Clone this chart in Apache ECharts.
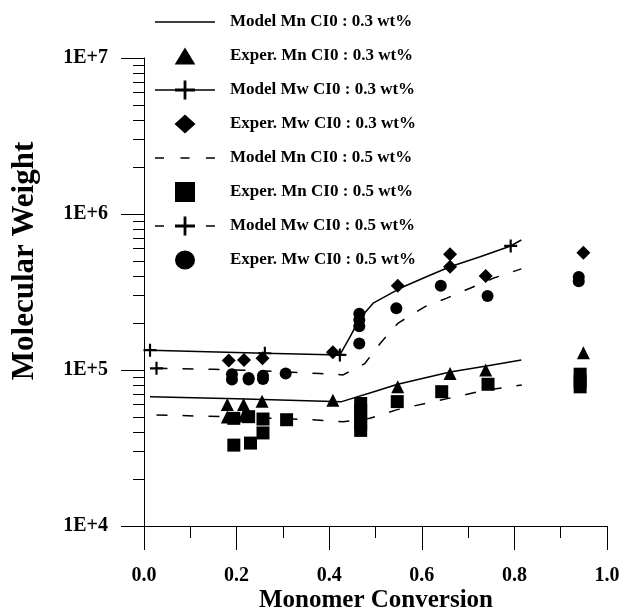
<!DOCTYPE html>
<html><head><meta charset="utf-8">
<script src="https://cdn.jsdelivr.net/npm/echarts@6/dist/echarts.min.js"></script>
<style>html,body{margin:0;padding:0;background:#fff}#c{width:629px;height:613px}</style>
</head><body><div id="c"></div>
<script>
// ---------- data ----------
const xTickLabels = ['0.0', '0.2', '0.4', '0.6', '0.8', '1.0'];
const yTickLabels = ['1E+4', '1E+5', '1E+6', '1E+7'];
const seriesNames = [
  'Model Mn CI0 : 0.3 wt%',
  'Exper. Mn CI0 : 0.3 wt%',
  'Model Mw CI0 : 0.3 wt%',
  'Exper. Mw CI0 : 0.3 wt%',
  'Model Mn CI0 : 0.5 wt%',
  'Exper. Mn CI0 : 0.5 wt%',
  'Model Mw CI0 : 0.5 wt%',
  'Exper. Mw CI0 : 0.5 wt%'
];

const modelMn03X = [0.013, 0.2, 0.427, 0.5, 0.548, 0.661, 0.74, 0.815];
const modelMn03Y = [67500, 65500, 62700, 73000, 81000, 97000, 106000, 116000];

const experMn03X = [0.18, 0.18, 0.215, 0.215, 0.255, 0.408, 0.548, 0.661, 0.738, 0.949];
const experMn03Y = [60000, 50000, 60000, 50700, 63000, 64000, 78000, 95000, 100000, 129000];

const modelMw03X = [0.013, 0.261, 0.423, 0.445, 0.466, 0.495, 0.553, 0.61, 0.661, 0.726, 0.792, 0.815];
const modelMw03Y = [134000, 128000, 125000, 163000, 214000, 268000, 334000, 396000, 459000, 532000, 624000, 681000];
const modelMw03MarkX = [0.013, 0.261, 0.423, 0.792];
const modelMw03MarkY = [134000, 128000, 125000, 624000];

const experMw03X = [0.183, 0.216, 0.256, 0.408, 0.548, 0.661, 0.661, 0.738, 0.949];
const experMw03Y = [115000, 116000, 119000, 130000, 347000, 552000, 459000, 401000, 565000];

const modelMn05X = [0.027, 0.2, 0.38, 0.43, 0.488, 0.545, 0.639, 0.74, 0.816];
const modelMn05Y = [51500, 50000, 47700, 46600, 49000, 55500, 64000, 74500, 80000];

const experMn05X = [0.194, 0.226, 0.257, 0.257, 0.194, 0.23, 0.308, 0.468, 0.468, 0.468, 0.468, 0.468, 0.547, 0.643, 0.743, 0.942, 0.942, 0.942];
const experMn05Y = [49000, 50200, 48500, 39500, 33000, 34000, 48000, 61000, 55000, 50000, 45000, 41000, 62700, 72600, 81000, 94000, 85000, 78000];

const modelMw05X = [0.027, 0.15, 0.25, 0.38, 0.43, 0.477, 0.51, 0.549, 0.607, 0.653, 0.704, 0.754, 0.815];
const modelMw05Y = [102500, 101000, 99000, 95000, 93000, 110000, 148000, 200000, 255000, 288000, 334000, 387000, 445000];
const modelMw05MarkX = [0.027];
const modelMw05MarkY = [102500];

const experMw05X = [0.19, 0.19, 0.226, 0.226, 0.257, 0.257, 0.306, 0.465, 0.465, 0.465, 0.465, 0.545, 0.641, 0.742, 0.939, 0.939];
const experMw05Y = [94000, 87000, 89000, 87000, 92000, 87500, 95000, 229000, 209000, 191000, 148000, 249000, 347000, 298000, 394000, 371000];

// ---------- styling ----------
const FONT = '"Times New Roman", "Liberation Serif", serif';
const zip = (xs, ys) => xs.map((x, i) => [x, ys[i]]);
const rect = (x0, y0, x1, y1) => `M${x0},${y0} L${x1},${y0} L${x1},${y1} L${x0},${y1} Z `;
const plusPath = 'path://' + rect(-1, -6, 1, 6) + rect(-6, -1, 6, 1);
// legend icons drawn in a 60x20 box; tiny corner anchors pin the bounding box
const anchors = rect(0, 0, 0.01, 0.01) + rect(59.99, 19.99, 60, 20);
const icon = body => 'path://' + anchors + body;
const iconSolid = icon(rect(0, 9.25, 60, 10.75));
const iconDash = icon(rect(0, 9.25, 9, 10.75) + rect(25.5, 9.25, 34.5, 10.75) + rect(51, 9.25, 60, 10.75));
const iconSolidPlus = icon(rect(0, 9.25, 60, 10.75) + rect(20, 8.6, 40, 11.4) + rect(28.6, 0.5, 31.4, 19.5));
const iconDashPlus = icon(rect(0, 9.25, 9, 10.75) + rect(51, 9.25, 60, 10.75) + rect(20, 8.6, 40, 11.4) + rect(28.6, 0.5, 31.4, 19.5));
const iconTri = icon('M30,1.5 L40.3,18.5 L19.7,18.5 Z ');
const iconDia = icon('M30,0.5 L40.5,10 L30,19.5 L19.5,10 Z ');
const iconSq = icon(rect(20, 0, 40, 20));
const iconCirc = icon('M20,10 A10,9.5 0 1,1 40,10 A10,9.5 0 1,1 20,10 Z ');
const legendIcons = [iconSolid, iconTri, iconSolidPlus, iconDia, iconDash, iconSq, iconDashPlus, iconCirc];

const minorTicks = [];
for (let d = 1e4; d < 1e7; d *= 10) for (let k = 2; k <= 9; k++) minorTicks.push(k * d);

const lineSeries = (name, xs, ys, dashed) => ({
  name, type: 'line', data: zip(xs, ys), symbol: 'none', z: 2,
  lineStyle: { color: '#000', width: 1.5, type: dashed ? [11, 15] : 'solid' },
  itemStyle: { color: '#000' }
});
const scatterSeries = (name, xs, ys, symbol, size) => ({
  name, type: 'scatter', data: zip(xs, ys), symbol, symbolSize: size, z: 5,
  itemStyle: { color: '#000', opacity: 1 }
});

const chart = echarts.init(document.getElementById('c'), null, { renderer: 'canvas' });
chart.setOption({
  animation: false,
  backgroundColor: '#fff',
  grid: { left: 144, right: 22, top: 58, bottom: 87 },
  legend: {
    orient: 'vertical', left: 150, top: 7, itemWidth: 60, itemHeight: 20, itemGap: 14,
    selectedMode: false, symbolKeepAspect: false,
    data: seriesNames.map((n, i) => ({ name: n, icon: legendIcons[i] })),
    itemStyle: { color: '#000', borderWidth: 0 },
    textStyle: { fontFamily: FONT, fontWeight: 'bold', fontSize: 17, color: '#000', padding: [0, 0, 0, 10] }
  },
  xAxis: {
    type: 'value', min: 0, max: 1, interval: 0.2,
    axisLine: { show: true, lineStyle: { color: '#000', width: 1 } },
    axisTick: { show: true, length: 24, lineStyle: { color: '#000', width: 1 } },
    minorTick: { show: true, splitNumber: 2, length: 12, lineStyle: { color: '#000', width: 1 } },
    splitLine: { show: false },
    axisLabel: {
      margin: 40, color: '#000', fontFamily: FONT, fontWeight: 'bold', fontSize: 20,
      formatter: v => xTickLabels[Math.round(v / 0.2)]
    }
  },
  yAxis: [{
    type: 'log', logBase: 10, min: 1e4, max: 1e7,
    axisLine: { show: true, lineStyle: { color: '#000', width: 1 } },
    axisTick: { show: true, length: 23, lineStyle: { color: '#000', width: 1 } },
    splitLine: { show: false },
    axisLabel: {
      margin: 36, color: '#000', fontFamily: FONT, fontWeight: 'bold', fontSize: 20,
      formatter: v => yTickLabels[Math.round(Math.log10(v)) - 4]
    }
  }, {
    type: 'log', logBase: 10, min: 1e4, max: 1e7, position: 'left',
    axisLine: { show: false },
    axisLabel: { show: false },
    splitLine: { show: false },
    axisTick: { show: true, length: 11, customValues: minorTicks, lineStyle: { color: '#000', width: 1 } }
  }],
  graphic: [{
    type: 'text', position: [376, 601],
    style: { text: 'Monomer Conversion', x: 0, y: 0, fill: '#000', font: 'bold 25px ' + FONT, textAlign: 'center', textVerticalAlign: 'middle' }
  }, {
    type: 'text', position: [25, 261], rotation: Math.PI / 2,
    style: { text: 'Molecular Weight', x: 0, y: 0, fill: '#000', font: 'bold 31px ' + FONT, textAlign: 'center', textVerticalAlign: 'middle' }
  }],
  series: [
    lineSeries(seriesNames[0], modelMn03X, modelMn03Y, false),
    scatterSeries(seriesNames[1], experMn03X, experMn03Y, 'triangle', 13),
    lineSeries(seriesNames[2], modelMw03X, modelMw03Y, false),
    scatterSeries('mw03marks', modelMw03MarkX, modelMw03MarkY, plusPath, 13),
    scatterSeries(seriesNames[3], experMw03X, experMw03Y, 'diamond', 14),
    lineSeries(seriesNames[4], modelMn05X, modelMn05Y, true),
    scatterSeries(seriesNames[5], experMn05X, experMn05Y, 'rect', 13),
    lineSeries(seriesNames[6], modelMw05X, modelMw05Y, true),
    scatterSeries('mw05marks', modelMw05MarkX, modelMw05MarkY, plusPath, 13),
    scatterSeries(seriesNames[7], experMw05X, experMw05Y, 'circle', 12)
  ]
});
</script>
</body></html>
